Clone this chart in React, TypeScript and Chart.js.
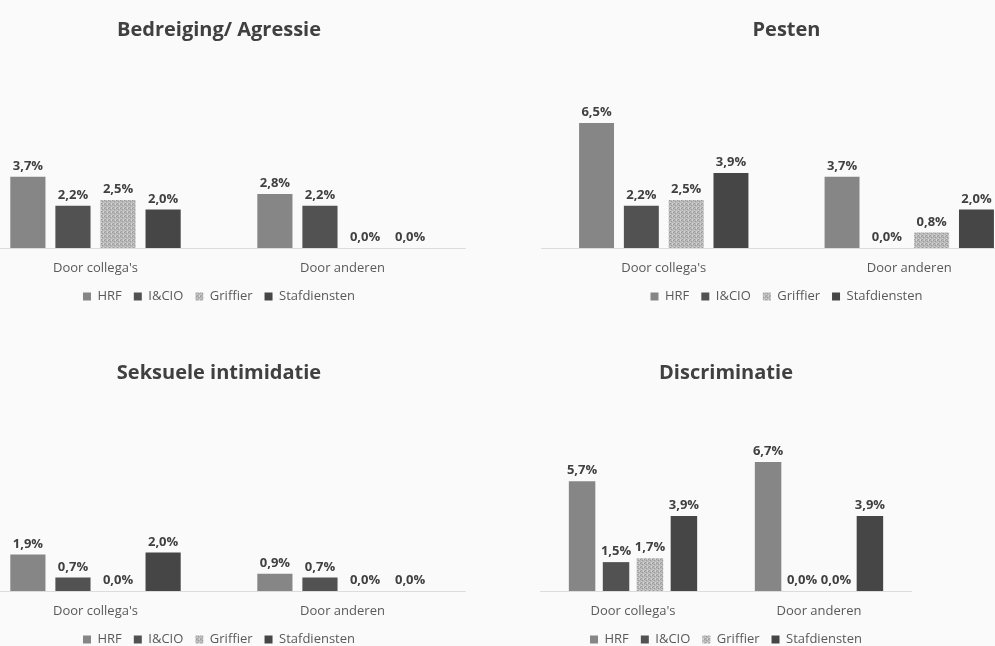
import React, { useEffect, useRef } from 'react';
import { Chart, registerables } from 'chart.js';

Chart.register(...registerables);

const categories = ["Door collega's", 'Door anderen'];
const seriesNames = ['HRF', 'I&CIO', 'Griffier', 'Stafdiensten'];

const bedreigingHRF = [3.7, 2.8];
const bedreigingICIO = [2.2, 2.2];
const bedreigingGriffier = [2.5, 0.0];
const bedreigingStaf = [2.0, 0.0];

const pestenHRF = [6.5, 3.7];
const pestenICIO = [2.2, 0.0];
const pestenGriffier = [2.5, 0.8];
const pestenStaf = [3.9, 2.0];

const seksueelHRF = [1.9, 0.9];
const seksueelICIO = [0.7, 0.7];
const seksueelGriffier = [0.0, 0.0];
const seksueelStaf = [2.0, 0.0];

const discriminatieHRF = [5.7, 6.7];
const discriminatieICIO = [1.5, 0.0];
const discriminatieGriffier = [1.7, 0.0];
const discriminatieStaf = [3.9, 3.9];

const FONT = '"Open Sans", Lato, sans-serif';

function makeSpeckle(): CanvasPattern | string {
  const c = document.createElement('canvas');
  c.width = 4;
  c.height = 4;
  const g = c.getContext('2d');
  if (!g) return '#b6b6b6';
  g.fillStyle = '#b8b8b8';
  g.fillRect(0, 0, 4, 4);
  g.fillStyle = '#9a9a9a';
  g.fillRect(0, 0, 1, 1);
  g.fillRect(2, 1, 1, 1);
  g.fillRect(1, 3, 1, 1);
  g.fillStyle = '#d2d2d2';
  g.fillRect(3, 0, 1, 1);
  g.fillRect(1, 2, 1, 1);
  g.fillRect(3, 3, 1, 1);
  const p = g.createPattern(c, 'repeat');
  return p || '#b6b6b6';
}

const valueLabelPlugin = {
  id: 'valueLabels',
  afterDatasetsDraw(chart: any) {
    const ctx = chart.ctx;
    ctx.save();
    ctx.font = `bold 13px ${FONT}`;
    ctx.fillStyle = '#404040';
    ctx.textAlign = 'center';
    ctx.textBaseline = 'bottom';
    chart.data.datasets.forEach((ds: any, di: number) => {
      const meta = chart.getDatasetMeta(di);
      meta.data.forEach((bar: any, i: number) => {
        const v = ds.data[i] as number;
        ctx.fillText(v.toFixed(1).replace('.', ',') + '%', bar.x, bar.y - 4);
      });
    });
    ctx.restore();
  },
};

type PanelProps = {
  title: string;
  hrf: number[];
  icio: number[];
  griffier: number[];
  staf: number[];
  left: number;
  top: number;
  width: number;
  height: number;
};

function Panel({ title, hrf, icio, griffier, staf, left, top, width, height }: PanelProps) {
  const ref = useRef<HTMLCanvasElement | null>(null);
  useEffect(() => {
    if (!ref.current) return;
    const speckle = makeSpeckle();
    const colors: any[] = ['#868686', '#525252', speckle, '#464646'];
    const values = [hrf, icio, griffier, staf];
    const chart = new Chart(ref.current, {
      type: 'bar',
      data: {
        labels: categories,
        datasets: seriesNames.map((name, i) => ({
          label: name,
          data: values[i],
          backgroundColor: colors[i],
          borderWidth: 0,
          categoryPercentage: 0.73,
          barPercentage: 0.78,
        })),
      },
      options: {
        responsive: false,
        animation: false,
        layout: { padding: 0 },
        plugins: {
          title: {
            display: true,
            text: title,
            color: '#404040',
            font: { family: FONT, size: 20, weight: 'bold' },
            padding: { top: 18, bottom: 52 },
          },
          legend: {
            position: 'bottom',
            labels: {
              boxWidth: 8,
              boxHeight: 8,
              color: '#595959',
              font: { family: FONT, size: 13 },
              padding: 12,
            },
          },
          tooltip: { enabled: false },
        },
        scales: {
          x: {
            grid: { display: false, drawTicks: false },
            border: { display: true, color: '#dcdcdc' },
            ticks: { color: '#595959', font: { family: FONT, size: 13 }, padding: 12 },
            afterFit: (scale: any) => {
              scale.height = 30;
            },
          },
          y: { display: false, min: 0, max: 8 },
        },
      },
      plugins: [valueLabelPlugin],
    } as any);
    return () => chart.destroy();
  }, []);
  return (
    <div style={{ position: 'absolute', left, top, width, height }}>
      <canvas ref={ref} width={width} height={height} style={{ display: 'block' }} />
    </div>
  );
}

export default function App() {
  return (
    <div
      style={{
        position: 'fixed',
        left: 0,
        top: 0,
        width: 995,
        height: 646,
        overflow: 'hidden',
        background: '#fafafa',
      }}
    >
      <Panel title="Bedreiging/ Agressie" hrf={bedreigingHRF} icio={bedreigingICIO} griffier={bedreigingGriffier} staf={bedreigingStaf} left={-28} top={0} width={494} height={313} />
      <Panel title="Pesten" hrf={pestenHRF} icio={pestenICIO} griffier={pestenGriffier} staf={pestenStaf} left={541} top={0} width={491} height={313} />
      <Panel title="Seksuele intimidatie" hrf={seksueelHRF} icio={seksueelICIO} griffier={seksueelGriffier} staf={seksueelStaf} left={-28} top={343} width={494} height={313} />
      <Panel title="Discriminatie" hrf={discriminatieHRF} icio={discriminatieICIO} griffier={discriminatieGriffier} staf={discriminatieStaf} left={540} top={343} width={372} height={313} />
    </div>
  );
}
